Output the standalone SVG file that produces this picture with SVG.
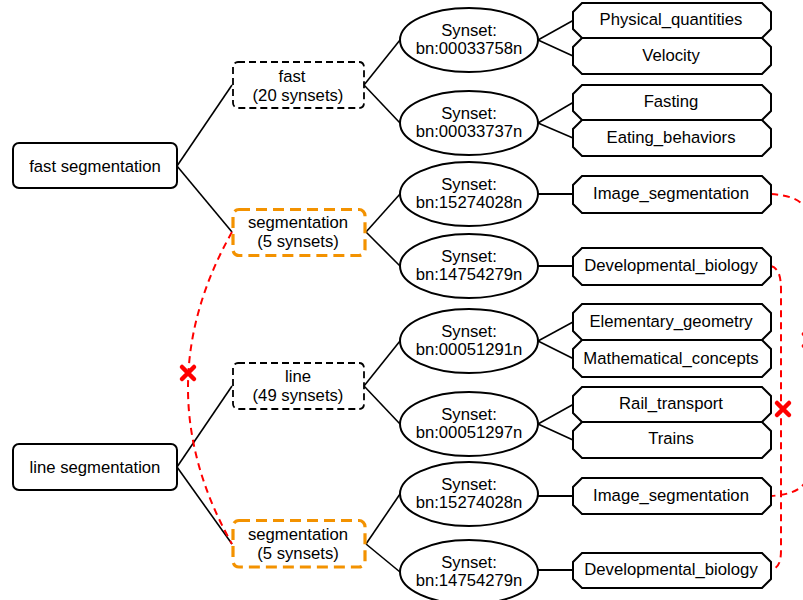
<svg xmlns="http://www.w3.org/2000/svg" width="803" height="600" viewBox="0 0 803 600">
<style>
text{font-family:"Liberation Sans",Arial,sans-serif;font-size:16.7px;fill:#000;text-anchor:middle}
.root{fill:#fff;stroke:#000;stroke-width:2}
.word{fill:#fff;stroke:#000;stroke-width:1.8;stroke-dasharray:7 4}
.seg{fill:#fff;stroke:#F39200;stroke-width:3.2;stroke-dasharray:11 6}
.syn{fill:#fff;stroke:#000;stroke-width:2}
.cat{fill:#fff;stroke:#000;stroke-width:2;stroke-linejoin:miter}
.ln{stroke:#000;stroke-width:1.6;fill:none}
.lh{stroke:#000;stroke-width:2.2;fill:none}
.red{stroke:#FF0000;stroke-width:2;stroke-dasharray:7 5;fill:none}
.x{stroke:#FF0000;stroke-width:4.5;stroke-linecap:round}
</style>
<rect width="803" height="600" fill="#fff"/>
<g id="connectors">
<line class="ln" x1="177" y1="166" x2="232" y2="85"/>
<line class="ln" x1="177" y1="166" x2="232" y2="232"/>
<line class="ln" x1="177" y1="467" x2="232" y2="386"/>
<line class="ln" x1="177" y1="467" x2="232" y2="544"/>
<line class="ln" x1="364" y1="85" x2="400" y2="40"/>
<line class="ln" x1="364" y1="85" x2="400" y2="123"/>
<line class="ln" x1="366" y1="232" x2="400" y2="194"/>
<line class="ln" x1="366" y1="232" x2="400" y2="266"/>
<line class="ln" x1="364" y1="386" x2="400" y2="341"/>
<line class="ln" x1="364" y1="386" x2="400" y2="424"/>
<line class="ln" x1="366" y1="544" x2="400" y2="494"/>
<line class="ln" x1="366" y1="544" x2="400" y2="572"/>
<line class="ln" x1="538" y1="40" x2="573" y2="20.5"/>
<line class="ln" x1="538" y1="40" x2="573" y2="56"/>
<line class="ln" x1="538" y1="123" x2="573" y2="102.5"/>
<line class="ln" x1="538" y1="123" x2="573" y2="138"/>
<line class="lh" x1="538" y1="194" x2="573" y2="194"/>
<line class="lh" x1="538" y1="266" x2="573" y2="266"/>
<line class="ln" x1="538" y1="341" x2="573" y2="322"/>
<line class="ln" x1="538" y1="341" x2="573" y2="358.5"/>
<line class="ln" x1="538" y1="424" x2="573" y2="404.5"/>
<line class="ln" x1="538" y1="424" x2="573" y2="440"/>
<line class="lh" x1="538" y1="496" x2="573" y2="496"/>
<line class="lh" x1="538" y1="570" x2="573" y2="570"/>
<path class="red" d="M232,232 Q144,388 232,544"/>
<path class="red" d="M771,194 C800,196 810,205 810,230 L810,460 C810,485 800,494 771,496"/>
<path class="red" d="M771,266 C778,268 781,275 781,290 L781,550 C781,563 778,568 771,570"/>
</g>
<g id="n-fast-segmentation"><rect class="root" x="13" y="143" width="164" height="45" rx="6"/><text x="95" y="172">fast segmentation</text></g>
<g id="n-line-segmentation"><rect class="root" x="13" y="444" width="164" height="46" rx="6"/><text x="95" y="473">line segmentation</text></g>
<g id="n-fast"><rect class="word" x="233" y="62" width="131" height="46" rx="5"/><text x="292" y="82">fast</text><text x="298" y="101">(20 synsets)</text></g>
<g id="n-seg1"><rect class="seg" x="233" y="209.5" width="132" height="46" rx="6"/><text x="298" y="228">segmentation</text><text x="298" y="247">(5 synsets)</text></g>
<g id="n-line"><rect class="word" x="233" y="363" width="131" height="46" rx="5"/><text x="298" y="382">line</text><text x="298" y="401">(49 synsets)</text></g>
<g id="n-seg2"><rect class="seg" x="233" y="520.5" width="132" height="46.5" rx="6"/><text x="298" y="540">segmentation</text><text x="298" y="559">(5 synsets)</text></g>
<g id="s1"><ellipse class="syn" cx="469" cy="40" rx="69" ry="32"/><text x="469" y="36">Synset:</text><text x="469" y="54">bn:00033758n</text></g>
<g id="s2"><ellipse class="syn" cx="469" cy="123" rx="69" ry="32"/><text x="469" y="119">Synset:</text><text x="469" y="137">bn:00033737n</text></g>
<g id="s3"><ellipse class="syn" cx="469" cy="194" rx="69" ry="32"/><text x="469" y="190">Synset:</text><text x="469" y="208">bn:15274028n</text></g>
<g id="s4"><ellipse class="syn" cx="469" cy="266" rx="69" ry="32"/><text x="469" y="262">Synset:</text><text x="469" y="280">bn:14754279n</text></g>
<g id="s5"><ellipse class="syn" cx="469" cy="341" rx="69" ry="32"/><text x="469" y="337">Synset:</text><text x="469" y="355">bn:00051291n</text></g>
<g id="s6"><ellipse class="syn" cx="469" cy="424" rx="69" ry="32"/><text x="469" y="420">Synset:</text><text x="469" y="438">bn:00051297n</text></g>
<g id="s7"><ellipse class="syn" cx="469" cy="494" rx="69" ry="32"/><text x="469" y="490">Synset:</text><text x="469" y="508">bn:15274028n</text></g>
<g id="s8"><ellipse class="syn" cx="469" cy="572" rx="69" ry="32"/><text x="469" y="568">Synset:</text><text x="469" y="586">bn:14754279n</text></g>
<g id="c1"><path class="cat" d="M582,3 L762,3 L771,12 L771,29 L762,38 L582,38 L573,29 L573,12 Z"/><text x="671" y="25">Physical_quantities</text></g>
<g id="c2"><path class="cat" d="M582,38 L762,38 L771,47 L771,65 L762,74 L582,74 L573,65 L573,47 Z"/><text x="671" y="61">Velocity</text></g>
<g id="c3"><path class="cat" d="M582,85 L762,85 L771,94 L771,111 L762,120 L582,120 L573,111 L573,94 Z"/><text x="671" y="107">Fasting</text></g>
<g id="c4"><path class="cat" d="M582,120 L762,120 L771,129 L771,147 L762,156 L582,156 L573,147 L573,129 Z"/><text x="671" y="143">Eating_behaviors</text></g>
<g id="c5"><path class="cat" d="M582,176 L762,176 L771,185 L771,204 L762,213 L582,213 L573,204 L573,185 Z"/><text x="671" y="199">Image_segmentation</text></g>
<g id="c6"><path class="cat" d="M582,248 L762,248 L771,257 L771,276 L762,285 L582,285 L573,276 L573,257 Z"/><text x="671" y="271">Developmental_biology</text></g>
<g id="c7"><path class="cat" d="M582,304 L762,304 L771,313 L771,331 L762,340 L582,340 L573,331 L573,313 Z"/><text x="671" y="327">Elementary_geometry</text></g>
<g id="c8"><path class="cat" d="M582,340 L762,340 L771,349 L771,368 L762,377 L582,377 L573,368 L573,349 Z"/><text x="671" y="364">Mathematical_concepts</text></g>
<g id="c9"><path class="cat" d="M582,387 L762,387 L771,396 L771,413 L762,422 L582,422 L573,413 L573,396 Z"/><text x="671" y="409">Rail_transport</text></g>
<g id="c10"><path class="cat" d="M582,422 L762,422 L771,431 L771,449 L762,458 L582,458 L573,449 L573,431 Z"/><text x="671" y="444">Trains</text></g>
<g id="c11"><path class="cat" d="M582,478 L762,478 L771,487 L771,505 L762,514 L582,514 L573,505 L573,487 Z"/><text x="671" y="501">Image_segmentation</text></g>
<g id="c12"><path class="cat" d="M582,553 L762,553 L771,562 L771,579 L762,588 L582,588 L573,579 L573,562 Z"/><text x="671" y="575">Developmental_biology</text></g>
<g id="marks">
<path class="x" d="M182,367 L194,379 M194,367 L182,379"/>
<path class="x" d="M777,403 L789,415 M789,403 L777,415"/>
<path class="x" d="M804,334 L816,346 M816,334 L804,346"/>
</g>
</svg>
